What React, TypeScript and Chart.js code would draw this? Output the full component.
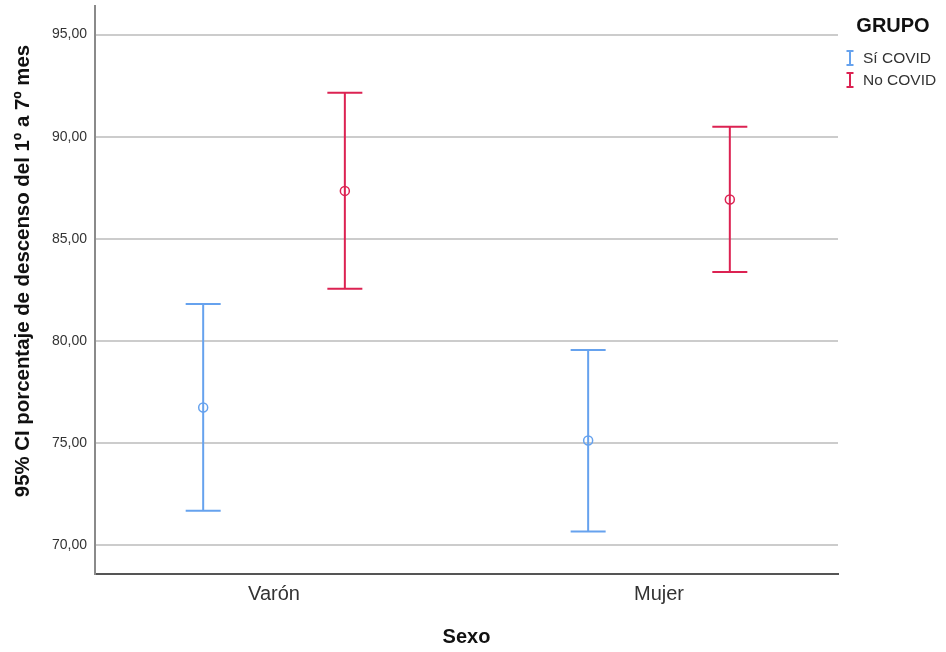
import { useEffect, useRef } from "react";
import { Chart, registerables } from "chart.js";

Chart.register(...registerables);

// ---- data ----
const categories = ["Varón", "Mujer"];
const seriesNames = ["Sí COVID", "No COVID"];
const siMean = [76.75, 75.13];
const siLow = [71.69, 70.68];
const siHigh = [81.81, 79.56];
const noMean = [87.35, 86.93];
const noLow = [82.56, 83.38];
const noHigh = [92.16, 90.49];
const yTicks = [70, 75, 80, 85, 90, 95];

const yTitle = "95% CI porcentaje de descenso del 1º a 7º mes";
const xTitle = "Sexo";
const legendTitle = "GRUPO";

// ---- style ----
const FONT = "Arial, 'Liberation Sans', Helvetica, sans-serif";
const BLUE = "#66a2ee";
const RED = "#dc2252";
const DODGE = 0.184;
const CAP = 17.5;

const errorBarPlugin = {
  id: "errorBars",
  beforeDatasetsDraw(chart: any) {
    const { ctx, scales } = chart;
    const x = scales.x;
    const y = scales.y;
    chart.data.datasets.forEach((ds: any) => {
      ds.data.forEach((p: any) => {
        const px = x.getPixelForValue(p.x);
        const yl = y.getPixelForValue(p.lo);
        const yh = y.getPixelForValue(p.hi);
        ctx.save();
        ctx.strokeStyle = ds.borderColor;
        ctx.lineWidth = 2;
        ctx.beginPath();
        ctx.moveTo(px, yl);
        ctx.lineTo(px, yh);
        ctx.moveTo(px - CAP, yl);
        ctx.lineTo(px + CAP, yl);
        ctx.moveTo(px - CAP, yh);
        ctx.lineTo(px + CAP, yh);
        ctx.stroke();
        ctx.restore();
      });
    });
  },
};

const annotationsPlugin = {
  id: "annotations",
  afterDraw(chart: any) {
    const { ctx } = chart;
    // y-axis title
    ctx.save();
    ctx.translate(23, 271);
    ctx.rotate(-Math.PI / 2);
    ctx.font = `bold 20.4px ${FONT}`;
    ctx.fillStyle = "#111";
    ctx.textAlign = "center";
    ctx.textBaseline = "middle";
    ctx.fillText(yTitle, 0, 0);
    ctx.restore();

    // legend
    ctx.save();
    ctx.font = `bold 20px ${FONT}`;
    ctx.fillStyle = "#111";
    ctx.textAlign = "center";
    ctx.textBaseline = "middle";
    ctx.fillText(legendTitle, 893, 26);
    const colors = [BLUE, RED];
    seriesNames.forEach((name, i) => {
      const cy = 58 + i * 22;
      const ix = 850;
      ctx.strokeStyle = colors[i];
      ctx.lineWidth = 2;
      ctx.beginPath();
      ctx.moveTo(ix, cy - 7);
      ctx.lineTo(ix, cy + 7);
      ctx.moveTo(ix - 3.5, cy - 7);
      ctx.lineTo(ix + 3.5, cy - 7);
      ctx.moveTo(ix - 3.5, cy + 7);
      ctx.lineTo(ix + 3.5, cy + 7);
      ctx.stroke();
      ctx.font = `15.5px ${FONT}`;
      ctx.fillStyle = "#333";
      ctx.textAlign = "left";
      ctx.textBaseline = "middle";
      ctx.fillText(name, 863, cy + 1);
    });
    ctx.restore();
  },
};

export default function App() {
  const ref = useRef<HTMLCanvasElement | null>(null);

  useEffect(() => {
    if (!ref.current) return;
    const mk = (mean: number[], lo: number[], hi: number[], off: number) =>
      categories.map((_, i) => ({ x: i + 1 + off, y: mean[i], lo: lo[i], hi: hi[i] }));

    const chart = new Chart(ref.current, {
      type: "scatter",
      data: {
        datasets: [
          {
            label: seriesNames[0],
            data: mk(siMean, siLow, siHigh, -DODGE),
            borderColor: BLUE,
            backgroundColor: "rgba(0,0,0,0)",
            pointRadius: 4.5,
            pointBorderWidth: 1.5,
            pointStyle: "circle",
          },
          {
            label: seriesNames[1],
            data: mk(noMean, noLow, noHigh, DODGE),
            borderColor: RED,
            backgroundColor: "rgba(0,0,0,0)",
            pointRadius: 4.5,
            pointBorderWidth: 1.5,
            pointStyle: "circle",
          },
        ],
      },
      options: {
        responsive: false,
        animation: false,
        devicePixelRatio: 1,
        layout: { padding: { left: 0, right: 108, top: 6, bottom: 0 } },
        plugins: {
          legend: { display: false },
          tooltip: { enabled: false },
        },
        scales: {
          x: {
            type: "linear",
            min: 0.535,
            max: 2.465,
            afterBuildTicks: (s: any) => {
              s.ticks = categories.map((_, i) => ({ value: i + 1 }));
            },
            afterFit: (s: any) => {
              s.height = 78;
              s.paddingLeft = 0;
              s.paddingRight = 0;
            },
            grid: { display: false, drawTicks: false },
            border: { display: true, color: "#555", width: 2 },
            ticks: {
              padding: 8,
              color: "#333",
              font: { family: FONT, size: 20 },
              callback: (_v: any, i: number) => categories[i],
            },
            title: {
              display: true,
              text: xTitle,
              color: "#111",
              font: { family: FONT, size: 20, weight: "bold" },
              padding: { top: 0, bottom: 3 },
            },
          },
          y: {
            type: "linear",
            min: 68.6,
            max: 96.4,
            afterBuildTicks: (s: any) => {
              s.ticks = yTicks.map((v) => ({ value: v }));
            },
            afterFit: (s: any) => {
              s.width = 95;
              s.paddingTop = 0;
              s.paddingBottom = 0;
            },
            grid: { color: "#cccccc", lineWidth: 2, drawTicks: false },
            border: { display: true, color: "#8a8a8a", width: 2 },
            ticks: {
              padding: 8,
              color: "#333",
              font: { family: FONT, size: 14 },
              callback: (v: any) => Number(v).toFixed(2).replace(".", ","),
            },
          },
        },
      },
      plugins: [errorBarPlugin, annotationsPlugin],
    } as any);
    return () => chart.destroy();
  }, []);

  return (
    <div style={{ position: "absolute", left: 0, top: 0, width: 946, height: 652, background: "#fff" }}>
      <canvas ref={ref} width={946} height={652} style={{ display: "block" }} />
    </div>
  );
}
